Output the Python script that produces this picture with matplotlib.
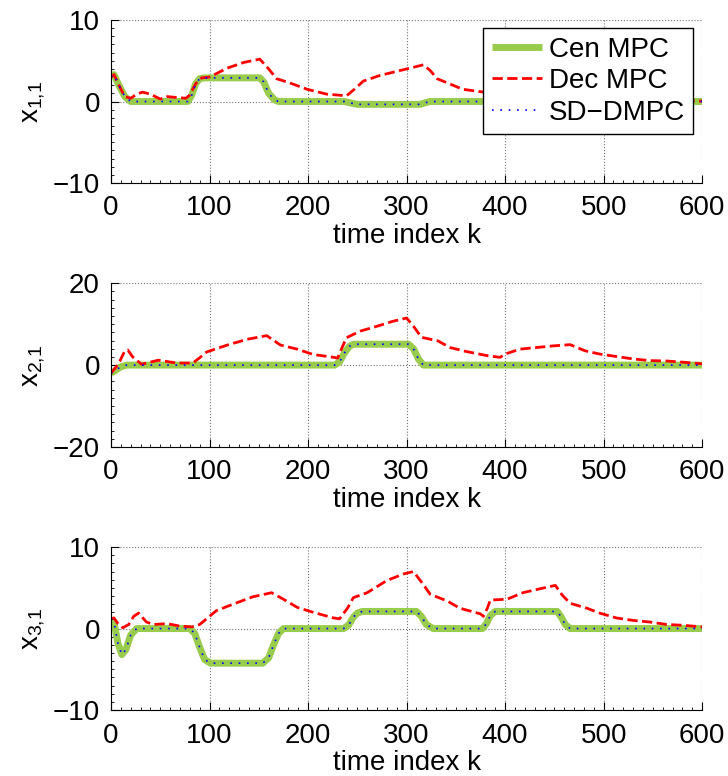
import numpy as np
import matplotlib
matplotlib.use("Agg")
import matplotlib.pyplot as plt
from matplotlib.ticker import MultipleLocator

plt.rcParams['font.family'] = ['Liberation Sans', 'DejaVu Sans']
plt.rcParams['font.size'] = 20

# panel 1: x_{1,1}
cen1_k = [0, 3, 8, 14, 20, 78, 82, 86, 90, 95, 151, 155, 160, 166, 170, 237, 244, 250, 314, 319, 324, 600]
cen1_v = [3.0, 3.3, 2.0, 0.6, 0, 0, 0.8, 2.2, 2.8, 2.9, 2.9, 2.4, 1.0, 0.2, 0, 0, -0.2, -0.35, -0.35, -0.15, 0, 0]
dec1_k = [0, 3, 8, 14, 20, 26, 32, 40, 50, 57, 66, 76, 80, 86, 92, 100, 118, 135, 151, 160, 168, 181, 199,
          219, 239, 247, 256, 273, 290, 307, 317, 324, 331, 341, 357, 375, 400, 450, 500, 550, 600]
dec1_v = [3.0, 3.3, 2.0, 0.6, 0.4, 0.9, 1.15, 0.9, 0.3, 0.6, 0.5, 0.4, 0.8, 2.2, 2.9, 3.0, 4.1, 4.8, 5.2, 4.0, 2.8, 2.3, 1.5,
          0.9, 0.7, 1.5, 2.5, 3.2, 3.7, 4.2, 4.5, 3.8, 2.8, 2.3, 1.5, 1.2, 0.9, 0.5, 0.3, 0.15, 0.05]
sd1_k = cen1_k
sd1_v = cen1_v

# panel 2: x_{2,1}
cen2_k = [0, 5, 10, 16, 227, 232, 237, 242, 246, 302, 307, 312, 317, 600]
cen2_v = [-2.0, -1.2, -0.4, 0, 0, 0.8, 3.0, 4.6, 5.1, 5.1, 4.0, 1.5, 0, 0]
dec2_k = [0, 5, 9, 14, 17, 22, 31, 48, 67, 83, 90, 97, 118, 138, 158, 172, 189, 205, 226, 230, 234, 239, 253,
          270, 286, 300, 307, 315, 332, 344, 361, 382, 395, 400, 415, 432, 449, 466, 481, 496, 513, 530, 547,
          564, 581, 600]
dec2_v = [-2.0, -0.5, 1.0, 3.5, 3.7, 2.0, 0.2, 1.2, 0.5, 0.5, 1.8, 3.2, 4.9, 6.3, 7.2, 4.9, 3.9, 2.6, 1.9, 1.7, 4.0, 6.7, 8.3,
          9.5, 10.7, 11.5, 9.5, 6.8, 5.9, 4.3, 3.3, 2.3, 1.9, 2.7, 3.9, 4.3, 4.7, 5.0, 3.5, 2.7, 2.1, 1.5, 1.1,
          1.0, 0.7, 0.3]
sd2_k = cen2_k
sd2_v = cen2_v

# panel 3: x_{3,1}
cen3_k = [0, 3, 7, 11, 15, 20, 26, 80, 85, 90, 95, 101, 154, 160, 165, 170, 175, 236, 241, 246, 250, 255,
          310, 315, 320, 327, 377, 381, 385, 390, 453, 457, 461, 466, 600]
cen3_v = [1.2, 0.8, -1.8, -3.2, -2.6, -0.8, 0, 0, -0.6, -2.3, -3.8, -4.25, -4.25, -3.6, -2.0, -0.6, 0, 0, 0.4, 1.4, 1.9, 2.1,
          2.1, 1.5, 0.5, 0, 0, 0.6, 1.6, 2.1, 2.1, 1.4, 0.5, 0, 0]
dec3_k = [0, 3, 7, 12, 18, 23, 28, 36, 43, 57, 70, 82, 90, 97, 107, 124, 144, 163, 175, 189, 205, 226, 232,
          240, 246, 260, 280, 297, 307, 317, 324, 341, 354, 375, 378, 382, 385, 402, 418, 436, 451, 458, 466,
          483, 496, 513, 530, 547, 564, 581, 600]
dec3_v = [1.2, 1.3, 0.6, 0.1, 0.5, 1.5, 1.9, 0.8, 0.5, 0.6, 0.3, 0.2, 0.5, 1.2, 2.2, 3.0, 3.9, 4.4, 3.6, 2.6, 2.0, 1.3, 1.2,
          2.5, 3.8, 4.4, 5.9, 6.7, 7.0, 5.4, 4.2, 3.4, 2.5, 1.8, 1.5, 2.5, 3.5, 3.6, 4.4, 4.9, 5.3, 4.1, 3.1,
          2.5, 1.9, 1.3, 1.0, 0.8, 0.5, 0.4, 0.2]
sd3_k = cen3_k
sd3_v = cen3_v

labels = ["Cen MPC", "Dec MPC", "SD\u2212DMPC"]
ylabels = ["$\\mathregular{x_{1,\\!1}}$", "$\\mathregular{x_{2,\\!1}}$", "$\\mathregular{x_{3,\\!1}}$"]
ylims = [10, 20, 10]

panels = [(cen1_k, cen1_v, dec1_k, dec1_v, sd1_k, sd1_v),
          (cen2_k, cen2_v, dec2_k, dec2_v, sd2_k, sd2_v),
          (cen3_k, cen3_v, dec3_k, dec3_v, sd3_k, sd3_v)]

fig = plt.figure(figsize=(7.28, 7.76), dpi=100)
boxes = [[0.1525, 0.7642, 0.812, 0.210],
         [0.1525, 0.4240, 0.812, 0.211],
         [0.1525, 0.0850, 0.812, 0.210]]

for i, (ck, cv, dk, dv, sk, sv) in enumerate(panels):
    ax = fig.add_axes(boxes[i])
    ax.plot(ck, cv, color="#99CC4D", lw=5, solid_capstyle="butt", label=labels[0])
    ax.plot(dk, dv, color="red", lw=2, ls="--", label=labels[1])
    ax.plot(sk, sv, color="blue", lw=1.2, ls=(0, (1, 4)), label=labels[2])
    lim = ylims[i]
    ax.set_xlim(0, 600)
    ax.set_ylim(-lim, lim)
    ax.set_yticks([-lim, 0, lim])
    ax.set_xticks(np.arange(0, 601, 100))
    ax.xaxis.set_minor_locator(MultipleLocator(10))
    ax.yaxis.set_minor_locator(MultipleLocator(lim / 10))
    ax.grid(True, ls=":", color="0.45", lw=0.8)
    for s in ["top", "right"]:
        ax.spines[s].set_visible(False)
    ax.tick_params(which="major", direction="in", length=6, width=0.8, pad=8)
    ax.tick_params(which="minor", direction="in", length=2.5, width=0.6)
    ax.tick_params(axis="x", which="major", pad=9)
    ax.set_xlabel("time index k", labelpad=1)
    ax.set_ylabel(ylabels[i], labelpad=4)
    if i == 0:
        ax.legend(loc="upper right", bbox_to_anchor=(0.985, 0.95), fancybox=False, framealpha=1,
                  edgecolor="k", borderpad=0.3, labelspacing=0.2, handlelength=1.8,
                  handletextpad=0.25, borderaxespad=0)

plt.savefig("out.png")
